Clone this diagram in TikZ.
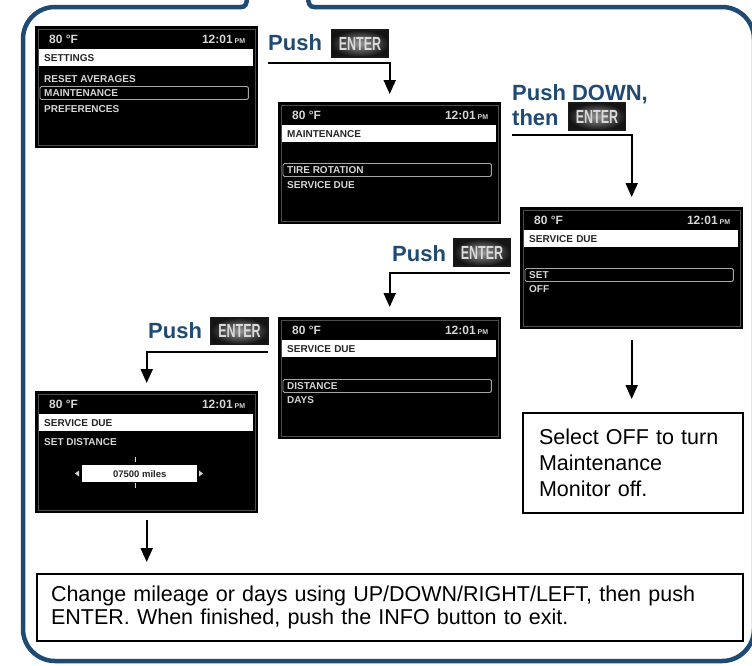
\documentclass[tikz,border=0pt]{standalone}
\usepackage{fontspec}
\setmainfont{Liberation Sans}
\usetikzlibrary{arrows.meta,calc}
\definecolor{fordblue}{HTML}{1F4A74}
\definecolor{lcdtxt}{HTML}{D6D6D6}

\tikzset{
  frameline/.style={draw=fordblue, line width=4.5pt, line cap=round},
  lbl/.style={font=\bfseries\fontsize{22}{22}\selectfont, text=fordblue, inner sep=0pt},
  enterbtn/.style={rectangle, draw=black!90, line width=1.4pt, minimum width=57pt, minimum height=27pt,
    inner sep=0pt, inner color=black!40, outer color=black!92,
    font=\bfseries\fontsize{19}{19}\selectfont, text=black!15},
  conn/.style={draw=black, line width=2pt, -{Triangle[width=12pt,length=14pt]}},
  textbox/.style={draw=black, line width=2pt, font=\fontsize{21.5}{23}\selectfont, align=left},
  lcdbox/.style={fill=black, draw=none, minimum width=223pt, minimum height=122pt, inner sep=0pt},
  lcdinner/.style={draw=black!70, line width=0.8pt},
  lcdtitle/.style={fill=white, minimum width=214pt, minimum height=17pt, text width=204pt,
    inner xsep=5pt, inner ysep=0pt, align=left, font=\bfseries\fontsize{10}{10}\selectfont, text=black!85},
  lcdstat/.style={inner sep=0pt, font=\bfseries\fontsize{12}{12}\selectfont, text=lcdtxt},
  lcditemsty/.style={inner sep=0pt, font=\bfseries\fontsize{10}{10}\selectfont, text=lcdtxt},
  lcdhlsty/.style={draw=black!35, line width=0.9pt, rounded corners=1.5pt},
  lcdvalbox/.style={fill=white, minimum width=115pt, minimum height=17pt, inner sep=0pt,
    font=\bfseries\fontsize{9.5}{9.5}\selectfont, text=black!85},
}

\newcommand{\lcdscreen}[4]{%
  \node[lcdbox, anchor=north west] (#1) at (#2,#3) {};
  \draw[lcdinner] ([shift={(3,3)}]#1.north west) rectangle ([shift={(-3,-3)}]#1.south east);
  \node[lcdtitle, anchor=north west] (#1-tb) at ([shift={(4,23)}]#1.north west) {#4};
  \node[lcdstat, anchor=base west] (#1-tmp) at ([shift={(14,17)}]#1.north west) {80 °F};
  \node[lcdstat, anchor=base east] (#1-clk) at ([shift={(-13,17)}]#1.north east) {12:01\,{\fontsize{7}{7}\selectfont PM}};
}
\newcommand{\lcdrow}[4]{\node[lcditemsty, anchor=west] (#1) at ([shift={(9,#3)}]#2.north west) {#4};}
\newcommand{\lcdmark}[2]{\draw[lcdhlsty] ([shift={(5,#2-6.5)}]#1.north west) rectangle ([shift={(-10,#2+6.5)}]#1.north east);}

\begin{document}
\begin{tikzpicture}[x=1pt, y=-1pt]
\useasboundingbox (0,0) rectangle (752,665);

% outer frame
\draw[frameline, rounded corners=32pt] (241,7) -- (23,7) -- (23,661) -- (754,661) -- (754,7) -- (314,7);
\draw[frameline] (241,7) .. controls (245,7) and (247,5) .. (247,-4);
\draw[frameline] (314,7) .. controls (310,7) and (308,4) .. (308,-4);

% screens
\lcdscreen{s1}{35}{26}{SETTINGS}
\lcdmark{s1}{67}
\lcdrow{s1-r1}{s1}{53}{RESET AVERAGES}
\lcdrow{s1-r2}{s1}{67}{MAINTENANCE}
\lcdrow{s1-r3}{s1}{83}{PREFERENCES}

\lcdscreen{s2}{278}{102}{MAINTENANCE}
\lcdmark{s2}{68}
\lcdrow{s2-r1}{s2}{68}{TIRE ROTATION}
\lcdrow{s2-r2}{s2}{83}{SERVICE DUE}

\lcdscreen{s3}{520}{207}{SERVICE DUE}
\lcdmark{s3}{68}
\lcdrow{s3-r1}{s3}{68}{SET}
\lcdrow{s3-r2}{s3}{82}{OFF}

\lcdscreen{s4}{278}{317}{SERVICE DUE}
\lcdmark{s4}{69}
\lcdrow{s4-r1}{s4}{69}{DISTANCE}
\lcdrow{s4-r2}{s4}{83}{DAYS}

\lcdscreen{s5}{35}{391}{SERVICE DUE}
\lcdrow{s5-r1}{s5}{51}{SET DISTANCE}
\node[lcdvalbox, anchor=north west] (s5-val) at ([shift={(47,74)}]s5.north west) {07500 miles};
\fill[lcdtxt] ([shift={(40,82.5)}]s5.north west) -- ++(4,-3) -- ++(0,6) -- cycle;
\fill[lcdtxt] ([shift={(168,82.5)}]s5.north west) -- ++(-4,-3) -- ++(0,6) -- cycle;
\draw[lcdtxt, line width=0.8pt] ([shift={(100,66)}]s5.north west) -- ++(0,5);
\draw[lcdtxt, line width=0.8pt] ([shift={(100,92)}]s5.north west) -- ++(0,5);

% labels and buttons
\node[lbl, anchor=base west] (l1) at (268,50) {Push};
\node[enterbtn] (b1) at (360,43.5) {\scalebox{0.66}[1]{ENTER}};
\node[lbl, anchor=base west] (l2a) at (512,100) {Push DOWN,};
\node[lbl, anchor=base west] (l2b) at (512,125) {then};
\node[enterbtn] (b2) at (597,116.5) {\scalebox{0.66}[1]{ENTER}};
\node[lbl, anchor=base west] (l3) at (392,261) {Push};
\node[enterbtn] (b3) at (482,252.5) {\scalebox{0.66}[1]{ENTER}};
\node[lbl, anchor=base west] (l4) at (148,338) {Push};
\node[enterbtn] (b4) at (239.5,331) {\scalebox{0.66}[1]{ENTER}};

% text boxes
\node[textbox, font=\fontsize{21.5}{26}\selectfont, minimum width=220pt, minimum height=100pt, text width=188pt, inner xsep=16pt, anchor=north west] (offbox) at (522,412) {Select OFF to turn\\Maintenance\\Monitor off.};
\node[textbox, minimum width=706pt, minimum height=67pt, text width=678pt, inner xsep=14pt, anchor=north west] (bbox) at (36,573) {\mbox{Change mileage or days using UP/DOWN/RIGHT/LEFT, then push}\\\mbox{ENTER. When finished, push the INFO button to exit.}};

% connectors
\coordinate (a1s) at (268,63);
\coordinate (a2s) at (512,135);
\coordinate (a3s) at (510,273);
\coordinate (a4s) at (268,352);
\draw[conn, shorten >=8pt] (a1s) -| (s2.north);
\draw[conn, shorten >=10pt] (a2s) -| (s3.north);
\draw[conn, shorten >=10pt] (a3s) -| (s4.north);
\draw[conn, shorten >=8pt] (a4s) -| (s5.north);
\draw[conn, shorten <=11pt, shorten >=13pt] (s3.south) -- (s3.south |- offbox.north);
\draw[conn, shorten <=7pt, shorten >=11pt] (s5.south) -- (s5.south |- bbox.north);
\end{tikzpicture}
\end{document}
